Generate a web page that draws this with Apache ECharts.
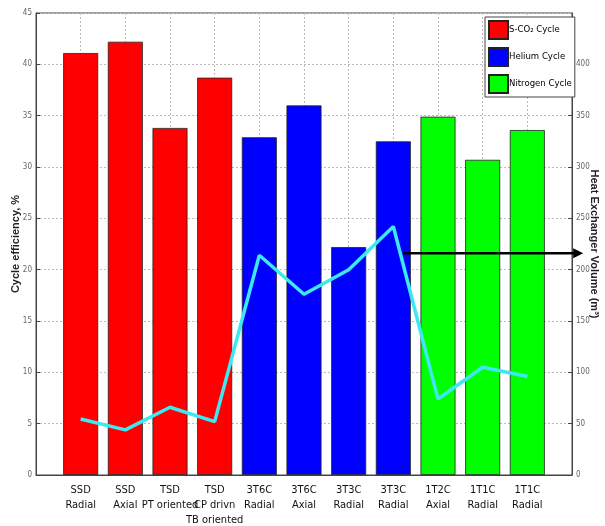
<!DOCTYPE html>
<html><head><meta charset="utf-8">
<script src="https://cdn.jsdelivr.net/npm/echarts@6/dist/echarts.min.js"></script>
<style>html,body{margin:0;padding:0;background:#fff}#c{width:605px;height:526px}</style>
</head><body><div id="c"></div>
<script>
const categories = ['SSD\nRadial','SSD\nAxial','TSD\nPT oriented','TSD\nCP drivn\nTB oriented','3T6C\nRadial','3T6C\nAxial','3T3C\nRadial','3T3C\nRadial','1T2C\nAxial','1T1C\nRadial','1T1C\nRadial'];
const efficiency = [41.1, 42.2, 33.8, 38.7, 32.9, 36.0, 22.2, 32.5, 34.9, 30.7, 33.6];
const hxVolume = [54.5, 44, 66, 52, 214, 176, 200, 242, 74, 105, 96];
const cycleGroups = ['S-CO\u2082 Cycle','Helium Cycle','Nitrogen Cycle'];
const groupIndex = [0,0,0,0,1,1,1,1,2,2,2];
const groupColors = ['#ff0000','#0000ff','#00ff00'];
const leftTicks = {min:0,max:45,interval:5};
const rightTicks = {min:0,max:450,interval:50};
const arrowFrom = [8.22, 216];
const arrowTo = [12.25, 216];

const FONT = "'DejaVu Sans Condensed','Liberation Sans Narrow','Liberation Sans',Arial,sans-serif";
const chart = echarts.init(document.getElementById('c'));
const barSeries = cycleGroups.map((g, gi) => ({
  name: g, type: 'bar', barWidth: 35, barGap: '-100%',
  itemStyle: {color: groupColors[gi], borderColor: '#222', borderWidth: 0.8},
  data: efficiency.map((v,i) => groupIndex[i]===gi ? [i+1, v] : null).filter(d => d),
  z: 2
}));
const dotted = {show:true, lineStyle:{color:'#bbb', type:[2,2], width:1}};
chart.setOption({
  animation:false,
  grid:{left:36, top:13, right:33, bottom:51, show:true, borderColor:'#444', borderWidth:1, containLabel:false, outerBoundsMode:'none'},
  legend:{
    data: cycleGroups, orient:'vertical', left:485, top:17,
    itemWidth:19, itemHeight:18, itemGap:7, padding:[3,3,3,3],
    backgroundColor:'#fff', borderColor:'#444', borderWidth:1,
    textStyle:{fontFamily:FONT, fontSize:9.5, color:'#000', padding:[0,0,0,-4]},
    icon:'rect'
  },
  xAxis:{
    type:'value', min:0, max:12, interval:1,
    axisLine:{lineStyle:{color:'#444'}},
    axisTick:{inside:true, length:4, lineStyle:{color:'#444'}},
    splitLine: dotted,
    axisLabel:{
      formatter: v => (v>=1 && v<=categories.length) ? categories[v-1] : '',
      fontFamily:FONT, fontSize:11, color:'#111', lineHeight:15, margin:8,
      showMinLabel:true, showMaxLabel:true, hideOverlap:false
    }
  },
  yAxis:[{
    type:'value', min:leftTicks.min, max:leftTicks.max, interval:leftTicks.interval,
    name:'Cycle efficiency, %', nameLocation:'middle', nameGap:15, nameMoveOverlap:false,
    nameTextStyle:{fontFamily:'Liberation Sans, Arial', fontWeight:'bold', fontSize:11, color:'#222'},
    axisLine:{show:true, lineStyle:{color:'#444'}},
    axisTick:{show:true, inside:true, length:4, lineStyle:{color:'#444'}},
    splitLine: dotted,
    axisLabel:{fontFamily:FONT, fontSize:8, color:'#666', margin:4}
  },{
    type:'value', min:rightTicks.min, max:rightTicks.max, interval:rightTicks.interval, position:'right',
    name:'Heat Exchanger Volume (m\u00b3)', nameLocation:'middle', nameGap:17, nameRotate:-90, nameMoveOverlap:false,
    nameTextStyle:{fontFamily:'Liberation Sans, Arial', fontWeight:'bold', fontSize:11, color:'#222'},
    axisLine:{show:true, lineStyle:{color:'#444'}},
    axisTick:{show:true, inside:true, length:4, lineStyle:{color:'#444'}},
    splitLine:{show:false},
    axisLabel:{fontFamily:FONT, fontSize:8, color:'#666', margin:4, showMaxLabel:false}
  }],
  series: barSeries.concat([{
    name:'HX volume', type:'line', yAxisIndex:1, showSymbol:false, symbol:'none',
    lineStyle:{color:'#3ee8f0', width:3.5}, z:5,
    data: hxVolume.map((v,i) => [i+1, v])
  }])
});
const p0x = chart.convertToPixel({xAxisIndex:0}, arrowFrom[0]);
const p1x = chart.convertToPixel({xAxisIndex:0}, arrowTo[0]);
const py = chart.convertToPixel({yAxisIndex:1}, arrowFrom[1]);
chart.setOption({graphic:[
  {type:'line', shape:{x1:p0x, y1:py, x2:p1x-8, y2:py}, style:{stroke:'#000', lineWidth:2.5}, z:10},
  {type:'polygon', shape:{points:[[p1x,py],[p1x-10,py-5],[p1x-10,py+5]]}, style:{fill:'#000'}, z:10}
]});
</script></body></html>
